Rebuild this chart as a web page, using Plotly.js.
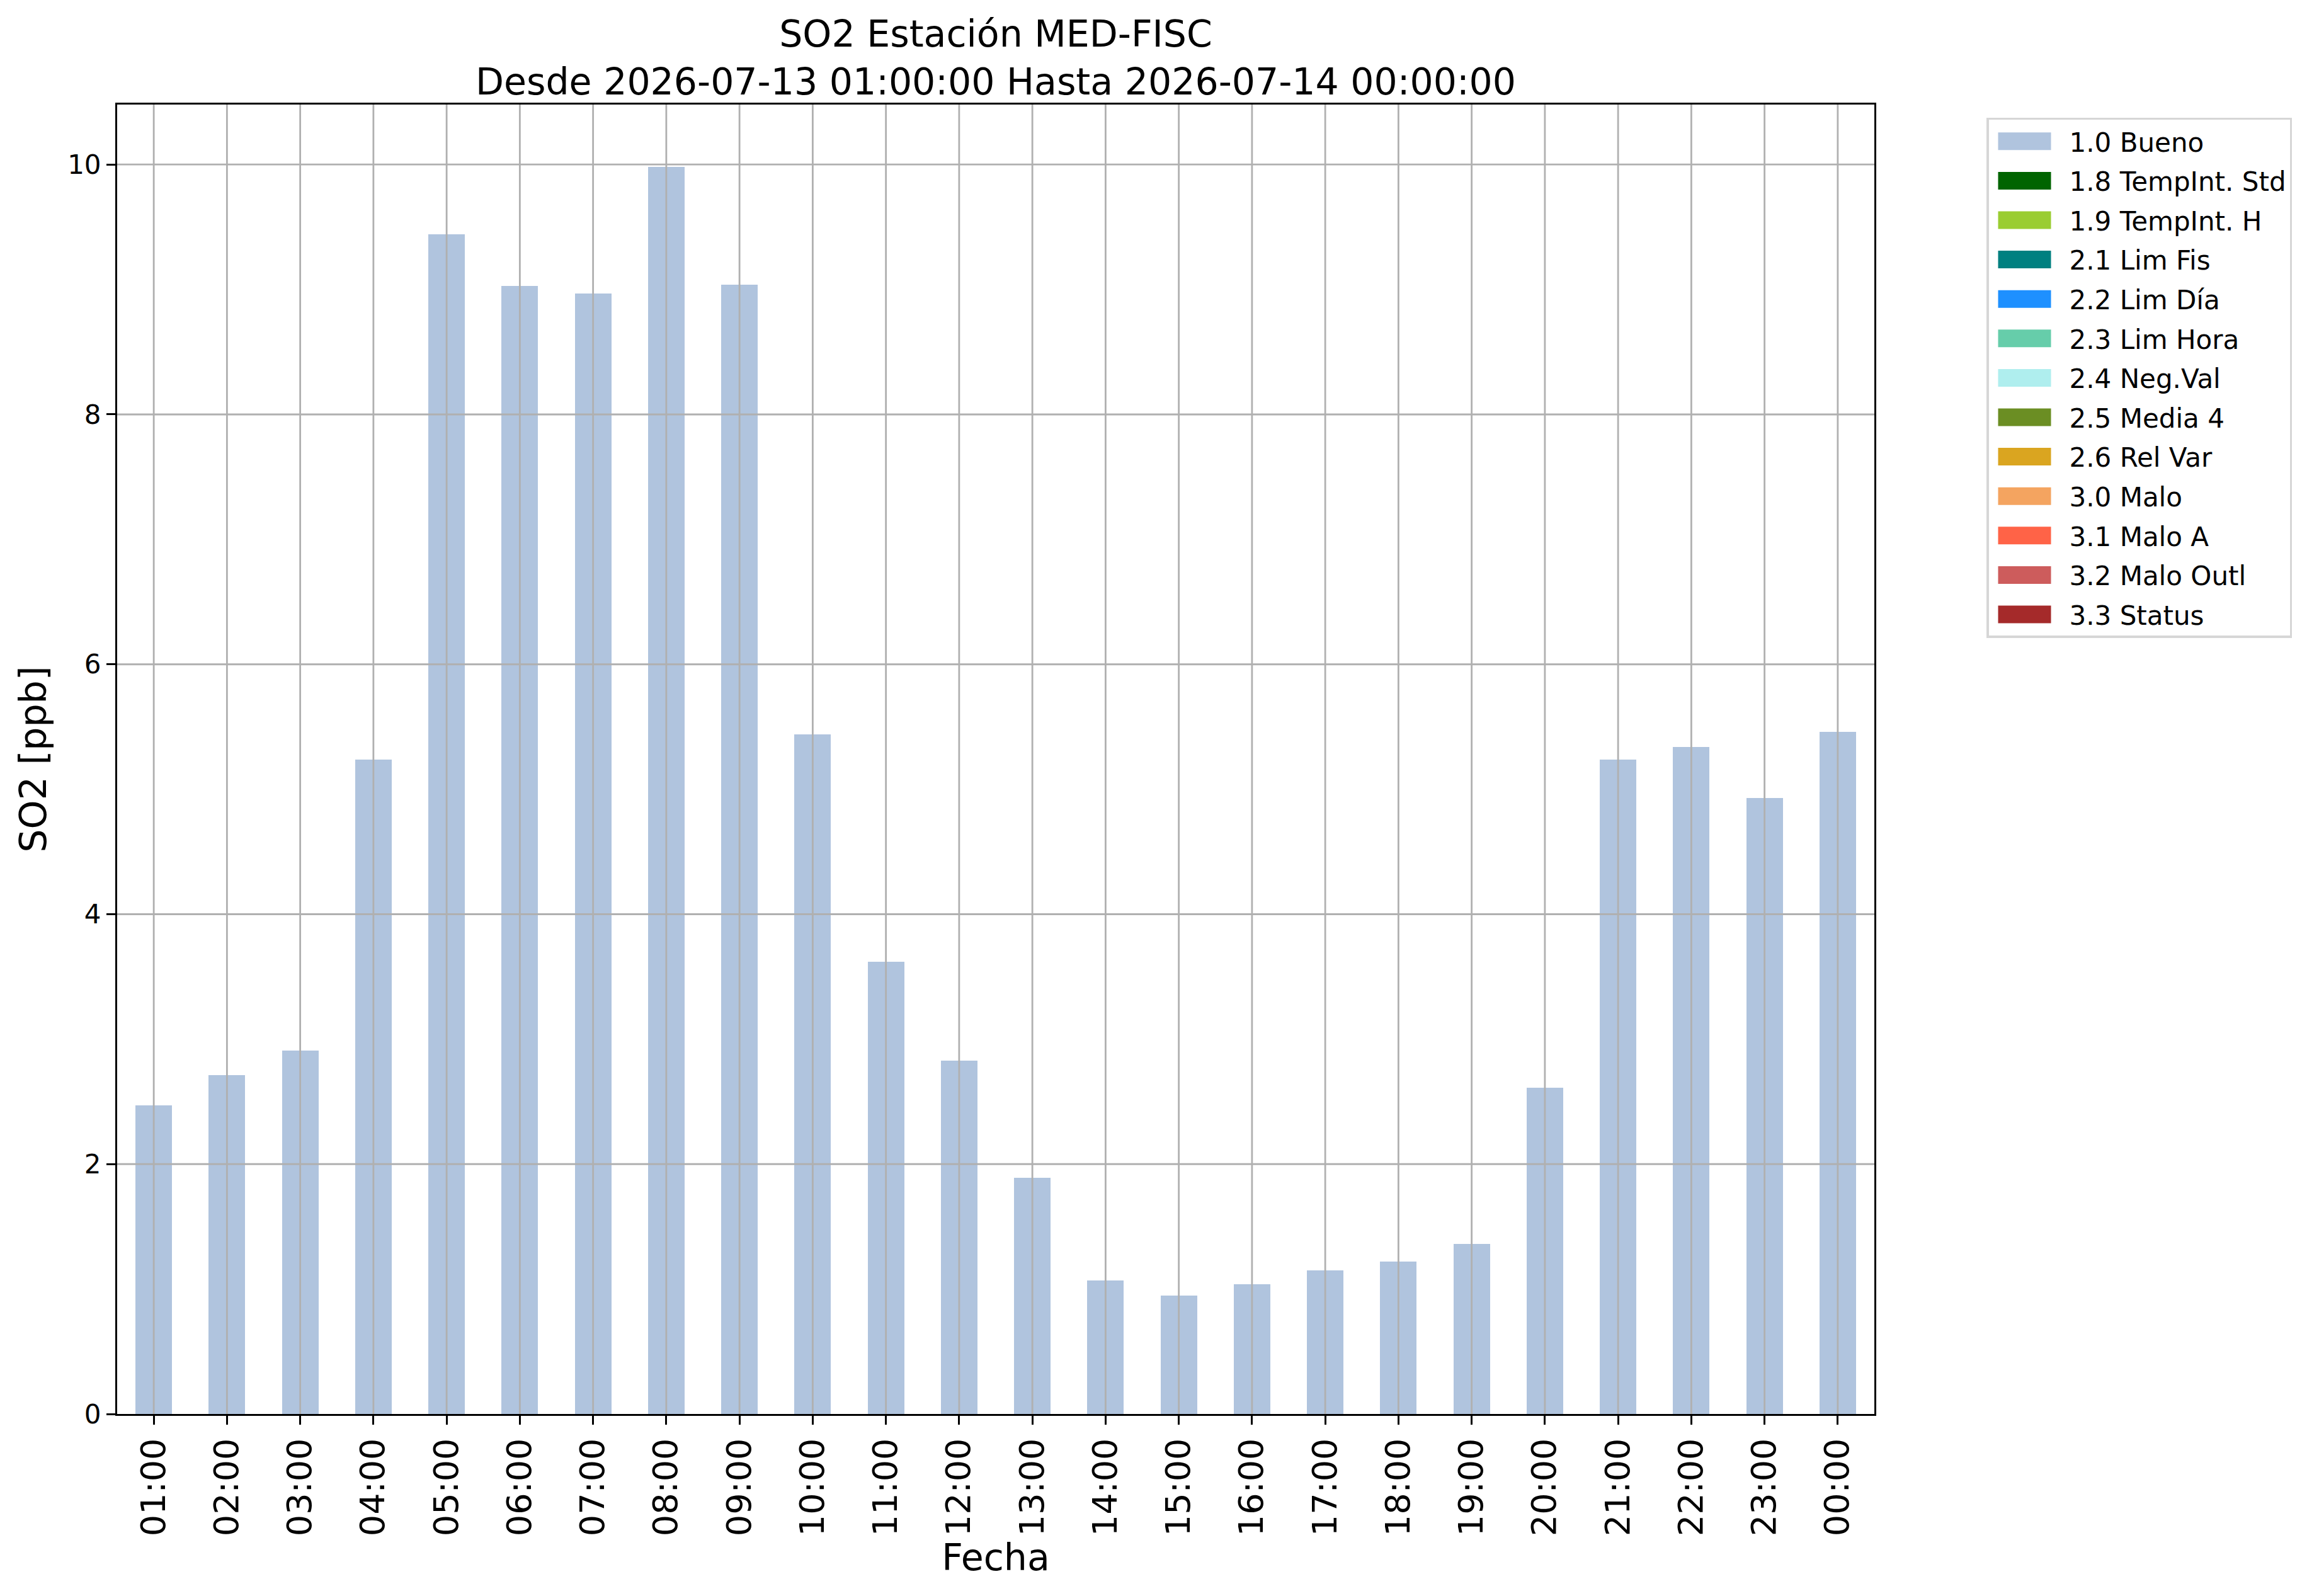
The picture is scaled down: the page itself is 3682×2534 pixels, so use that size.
<!DOCTYPE html>
<html>
<head>
<meta charset="utf-8">
<script src="https://cdn.plot.ly/plotly-3.0.1.min.js"></script>
<style>html,body{margin:0;padding:0;background:#fff;}#chart{width:3682px;height:2534px;}</style>
</head>
<body>
<div id="chart"></div>
<script>
// ---- data ----
const hours = ["01:00","02:00","03:00","04:00","05:00","06:00","07:00","08:00","09:00","10:00","11:00","12:00",
               "13:00","14:00","15:00","16:00","17:00","18:00","19:00","20:00","21:00","22:00","23:00","00:00"];
const bueno = [2.47, 2.71, 2.91, 5.24, 9.44, 9.03, 8.97, 9.98, 9.04, 5.44, 3.62, 2.83,
               1.89, 1.07, 0.95, 1.04, 1.15, 1.22, 1.36, 2.61, 5.24, 5.34, 4.93, 5.46];
// flag series with no values in this period
const tempIntStd = [];
const tempIntH = [];
const limFis = [];
const limDia = [];
const limHora = [];
const negVal = [];
const media4 = [];
const relVar = [];
const malo = [];
const maloA = [];
const maloOutl = [];
const status = [];
const yTicks = [0, 2, 4, 6, 8, 10];
const flagNames = ["1.0 Bueno","1.8 TempInt. Std","1.9 TempInt. H","2.1 Lim Fis","2.2 Lim Día","2.3 Lim Hora",
                   "2.4 Neg.Val","2.5 Media 4","2.6 Rel Var","3.0 Malo","3.1 Malo A","3.2 Malo Outl","3.3 Status"];
const flagColors = ["#b0c4de","#006400","#9acd32","#008080","#1e90ff","#66cdaa",
                    "#afeeee","#6b8e23","#daa520","#f4a460","#ff6347","#cd5c5c","#a52a2a"];
const seriesValues = [bueno, tempIntStd, tempIntH, limFis, limDia, limHora, negVal, media4, relVar, malo, maloA, maloOutl, status];

const FONT = "DejaVu Sans, sans-serif";

// missing hours are left empty (null) so every flag keeps its legend entry
const traces = seriesValues.map((vals, i) => ({
  type: "bar",
  name: flagNames[i],
  x: hours,
  y: hours.map((_, k) => (k < vals.length ? vals[k] : null)),
  width: 0.5,
  marker: {color: flagColors[i], line: {width: 0}},
  legendgroup: "g" + i,
  showlegend: true,
  hoverinfo: "skip"
}));

const gridColor = "#b0b0b0";
const gridWidth = 2.8;
const shapes = [];
hours.forEach(h => shapes.push({type: "line", xref: "x", yref: "paper", x0: h, x1: h, y0: 0, y1: 1,
  layer: "above", line: {color: gridColor, width: gridWidth}}));
yTicks.filter(v => v > 0).forEach(v => shapes.push({type: "line", xref: "paper", yref: "y", x0: 0, x1: 1, y0: v, y1: v,
  layer: "above", line: {color: gridColor, width: gridWidth}}));

const layout = {
  width: 3682, height: 2534,
  paper_bgcolor: "#fff", plot_bgcolor: "#fff",
  margin: {l: 186, r: 706, t: 166, b: 289, pad: 0},
  barmode: "stack",
  font: {family: FONT, color: "#000"},
  title: {
    text: "SO2 Estación MED-FISC<br>Desde 2026-07-13 01:00:00 Hasta 2026-07-14 00:00:00",
    font: {family: FONT, size: 58.5, color: "#000"},
    xref: "paper", x: 0.5, xanchor: "center",
    yref: "paper", y: 1, yanchor: "bottom", pad: {b: 92}
  },
  xaxis: {
    type: "category", categoryorder: "array", categoryarray: hours,
    range: [-0.5, hours.length - 0.5],
    tickangle: -90,
    tickfont: {family: FONT, size: 54, color: "#000"},
    ticks: "outside", ticklen: 14, tickwidth: 3, tickcolor: "#000",
    showgrid: false, zeroline: false,
    showline: true, linecolor: "#000", linewidth: 3, mirror: true,
    title: {text: "Fecha", font: {family: FONT, size: 58.5, color: "#000"}, standoff: 8},
    automargin: false, fixedrange: true
  },
  yaxis: {
    range: [0, 10.48],
    tickvals: yTicks, ticktext: yTicks.map(String),
    tickfont: {family: FONT, size: 42, color: "#000"},
    ticks: "outside", ticklen: 14, tickwidth: 3, tickcolor: "#000",
    showgrid: false, zeroline: false,
    showline: true, linecolor: "#000", linewidth: 3, mirror: true,
    title: {text: "SO2 [ppb]", font: {family: FONT, size: 58.5, color: "#000"}, standoff: 15},
    automargin: false, fixedrange: true
  },
  legend: {
    x: 1.0638, y: 0.9899, xanchor: "left", yanchor: "top",
    xref: "paper", yref: "paper",
    bgcolor: "#fff", bordercolor: "#d6d6d6", borderwidth: 3.5,
    font: {family: FONT, size: 42, color: "#000"},
    itemwidth: 118, tracegroupgap: 5,
    traceorder: "grouped"
  },
  shapes: shapes,
  showlegend: true
};

Plotly.newPlot("chart", traces, layout, {staticPlot: true, displayModeBar: false}).then(gd => {
  gd.querySelectorAll(".legend .legendpoints path").forEach(p => p.setAttribute("d", "M35,14H-49V-14H35Z"));
});
</script>
</body>
</html>
